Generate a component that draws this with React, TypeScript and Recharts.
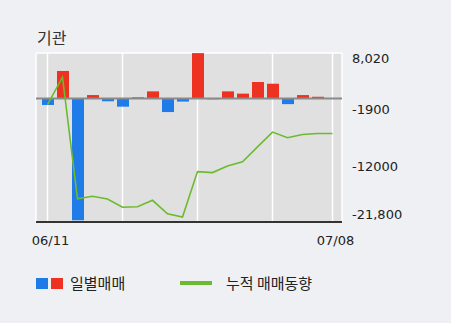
import {
  ComposedChart,
  Bar,
  Line,
  Cell,
  XAxis,
  YAxis,
  CartesianGrid,
  ReferenceLine,
} from "recharts";

const DATES = [
  "06/11", "06/12", "06/13", "06/14", "06/17", "06/18", "06/19", "06/20", "06/21", "06/24",
  "06/25", "06/26", "06/27", "06/28", "07/01", "07/02", "07/03", "07/04", "07/05", "07/08",
];
// daily net trades (bars)
const DAILY = [
  -1150, 4850, -21500, 600, -500, -1450, 200, 1250, -2400, -550,
  8000, -150, 1250, 850, 2900, 2600, -1000, 600, 300, 0,
];
// cumulative trend (line)
const CUMULATIVE = [
  -1100, 3750, -17700, -17270, -17740, -19190, -19100, -17970, -20350, -20930,
  -12910, -13080, -11930, -11160, -8550, -5930, -6930, -6350, -6180, -6180,
];
const GRID_DATES = ["06/11", "06/18", "06/25", "07/02", "07/08"];
const LABEL_DATES = ["06/11", "07/08"];
const Y_TICKS = [8020, -1900, -12000, -21800];
const Y_LABELS = ["8,020", "-1900", "-12000", "-21,800"];

const RED = "#ee3222";
const BLUE = "#1f7be8";
const GREEN = "#6cbb2e";
const NUM_FONT = "'DejaVu Sans', sans-serif";
const KR_FONT = "'Noto Sans CJK KR', sans-serif";

const data = DATES.map((date, i) => ({
  date,
  daily: DAILY[i],
  total: CUMULATIVE[i],
}));

const RightTick = (props: any) => {
  const { x, y, payload } = props;
  const i = Y_TICKS.indexOf(payload.value);
  const shift = i === 0 ? 5 : i === Y_TICKS.length - 1 ? -8 : 0;
  return (
    <text x={x} y={y + shift} dy="0.36em" textAnchor="start" fill="#222" fontSize={13} fontFamily={NUM_FONT}>
      {Y_LABELS[i]}
    </text>
  );
};

const BottomTick = (props: any) => {
  const { x, y, payload } = props;
  if (!LABEL_DATES.includes(payload.value)) return null;
  return (
    <text x={x + 3} y={y + 23} textAnchor="middle" fill="#222" fontSize={13} fontFamily={NUM_FONT}>
      {payload.value}
    </text>
  );
};

export default function App() {
  return (
    <div
      style={{
        position: "fixed",
        left: 0,
        top: 0,
        width: 451,
        height: 323,
        background: "#eef0f3",
        overflow: "hidden",
      }}
    >
      <div
        style={{
          position: "absolute",
          left: 37,
          top: 25,
          fontSize: 16,
          color: "#333",
          fontFamily: KR_FONT,
        }}
      >
        기관
      </div>

      <ComposedChart
        width={451}
        height={323}
        data={data}
        margin={{ top: 53, right: 9, bottom: 71, left: 36 }}
      >
        <CartesianGrid fill="#e0e0e0" stroke="#ffffff" strokeWidth={1.5} />
        <XAxis
          dataKey="date"
          ticks={GRID_DATES}
          interval={0}
          height={30}
          padding={{ left: 4, right: 2 }}
          tickLine={false}
          tickSize={0}
          tickMargin={0}
          axisLine={{ stroke: "#333", strokeWidth: 2 }}
          tick={<BottomTick />}
        />
        <YAxis
          yAxisId="left"
          orientation="left"
          width={0}
          domain={[-21800, 8020]}
          tick={false}
          tickLine={false}
          axisLine={{ stroke: "#333", strokeWidth: 2 }}
        />
        <YAxis
          yAxisId="right"
          orientation="right"
          width={100}
          domain={[-21800, 8020]}
          ticks={Y_TICKS}
          interval={0}
          tickLine={false}
          tickSize={0}
          tickMargin={10}
          axisLine={false}
          tick={<RightTick />}
        />
        <Bar yAxisId="right" dataKey="daily" barSize={12} isAnimationActive={false}>
          {data.map((d, i) => (
            <Cell key={i} fill={d.daily >= 0 ? RED : BLUE} />
          ))}
        </Bar>
        <ReferenceLine yAxisId="right" y={0} stroke="#8a8a8a" strokeWidth={2} />
        <Line
          yAxisId="right"
          type="linear"
          dataKey="total"
          stroke={GREEN}
          strokeWidth={1.6}
          dot={false}
          isAnimationActive={false}
        />
      </ComposedChart>

      <div style={{ position: "absolute", left: 36, top: 278, width: 12, height: 11, background: BLUE }} />
      <div style={{ position: "absolute", left: 51, top: 278, width: 12, height: 11, background: RED }} />
      <div
        style={{
          position: "absolute",
          left: 70,
          top: 273,
          fontSize: 15,
          color: "#222",
          fontFamily: KR_FONT,
          lineHeight: "20px",
        }}
      >
        일별매매
      </div>
      <div style={{ position: "absolute", left: 180, top: 281, width: 32, height: 4, background: GREEN }} />
      <div
        style={{
          position: "absolute",
          left: 226,
          top: 273,
          fontSize: 15,
          color: "#222",
          fontFamily: KR_FONT,
          lineHeight: "20px",
        }}
      >
        누적 매매동향
      </div>
    </div>
  );
}
